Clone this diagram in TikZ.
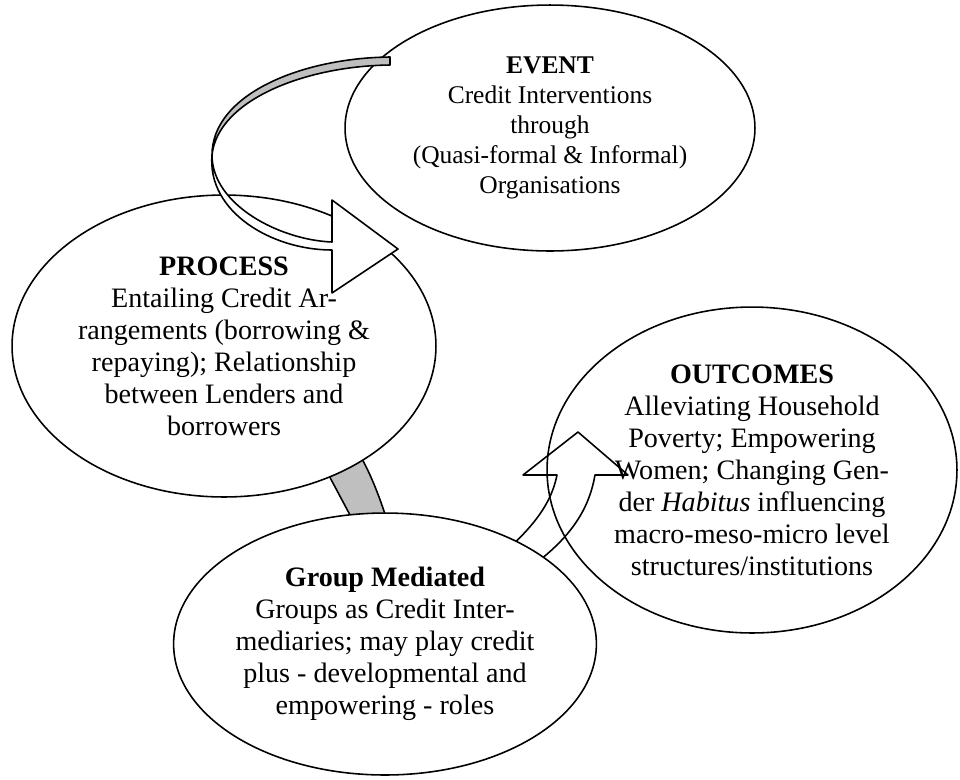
\documentclass[tikz,border=0pt]{standalone}
\usepackage{fontspec}
\setmainfont{Liberation Serif}
\usetikzlibrary{shapes.geometric}

\begin{document}
\begin{tikzpicture}[x=0.02cm,y=-0.02cm,
  bubble/.style={draw,ellipse,line width=0.9pt,fill=white,inner sep=0pt,align=center,font=\fontsize{16}{18.2}\selectfont},
  band/.style={draw,line width=0.9pt,line join=round}]
\useasboundingbox (0,0) rectangle (960,779);
% strip between process and group, hidden under both bubbles
\draw[band,fill=gray!50] (318,455) -- (358,530) -- (390,530) .. controls (378,490) and (365,460) .. (350,440) -- cycle;
\node[bubble,minimum width=8.2cm,minimum height=6.52cm] (outcomes) at (752,470) {\textbf{OUTCOMES}\\Alleviating Household\\Poverty; Empowering\\Women; Changing Gen-\\der \textit{Habitus} influencing\\macro-meso-micro level\\structures/institutions};
% group -> outcomes
\draw[band] (490,565) .. controls (525,535) and (550,510) .. (557,475) -- (523,475) -- (578,432) -- (628,475) -- (595,475) .. controls (588,515) and (565,545) .. (515,578);
\node[bubble,minimum width=8.48cm,minimum height=6.04cm] (process) at (224,346) {\textbf{PROCESS}\\Entailing Credit Ar-\\rangements (borrowing \&\\repaying); Relationship\\between Lenders and\\borrowers};
\node[bubble,minimum width=8.28cm,minimum height=5.24cm] (group) at (385,644) {\textbf{Group Mediated}\\Groups as Credit Inter-\\mediaries; may play credit\\plus - developmental and\\empowering - roles};
\node[bubble,minimum width=8.2cm,minimum height=4.92cm,font=\fontsize{14.5}{17}\selectfont] (event) at (550,128) {\textbf{EVENT}\\Credit Interventions\\through\\(Quasi-formal \& Informal)\\Organisations};
% event -> process
\coordinate (twist) at (212,155);
\draw[band,fill=gray!50] (390,57) .. controls (300,58) and (212,95) .. (twist) .. controls (218,100) and (305,66) .. (390,65) -- cycle;
\draw[band,fill=white] (twist) .. controls (212,205) and (280,240) .. (332,242) -- (332,200) -- (398,249) -- (332,293) -- (332,250) .. controls (272,250) and (207,212) .. (twist) -- cycle;
\end{tikzpicture}
\end{document}
